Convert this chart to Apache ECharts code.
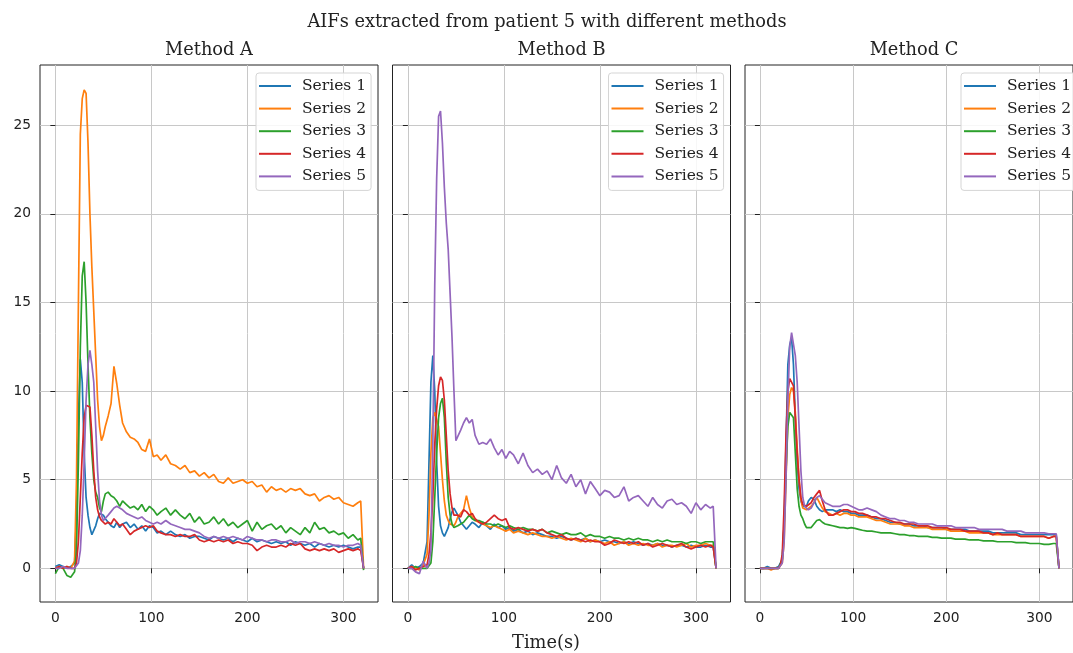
<!DOCTYPE html>
<html><head><meta charset="utf-8">
<script src="https://cdn.jsdelivr.net/npm/echarts@6/dist/echarts.min.js"></script>
<style>html,body{margin:0;padding:0;background:#fff}#c{width:1073px;height:653px}</style>
</head><body><div id="c"></div><script>
const times = [0,4,8,12,16,
  20,22,24,26,28,30,32,34,36,38,40,42,44,46,48,50,52,
  55,58,61,64,67,70,
  74,78,82,86,90,94,98,102,106,
  110,
  115,120,125,130,135,140,145,150,155,160,
  165,170,175,180,185,190,195,200,205,210,
  215,220,225,230,235,240,245,250,255,260,
  265,270,275,280,285,290,295,300,305,310,
  315,
  318,321];

const suptitle = 'AIFs extracted from patient 5 with different methods';
const methodNames = ['Method A', 'Method B', 'Method C'];
const seriesNames = ['Series 1', 'Series 2', 'Series 3', 'Series 4', 'Series 5'];
const xLabel = 'Time(s)';
const xTicks = [0, 100, 200, 300];
const yTicks = [0, 5, 10, 15, 20, 25];

// Method A
const a1 = [0.1,0.2,0.1,0.0,0.1,
  0.3,3.0,8.5,11.8,10.5,6.5,4.0,3.0,2.3,1.9,2.0,2.4,2.8,3.1,3.2,3.0,2.8,
  2.6,2.4,2.3,2.6,2.3,2.5,
  2.6,2.3,2.5,2.2,2.4,2.1,2.4,2.3,2.0,
  2.1,
  1.9,2.1,1.9,1.8,1.9,1.7,1.8,1.8,1.7,1.6,
  1.8,1.7,1.6,1.7,1.5,1.7,1.6,1.5,1.7,1.5,
  1.6,1.5,1.4,1.5,1.4,1.5,1.3,1.5,1.4,1.3,
  1.4,1.2,1.4,1.3,1.2,1.3,1.2,1.3,1.2,1.1,
  1.2,
  1.2,0.0];
const a2 = [0.0,0.1,0.0,0.1,0.0,
  0.4,5.0,15.0,24.5,26.5,27.0,26.8,24.0,20.0,17.0,14.5,12.0,9.5,8.0,7.2,7.5,8.0,
  8.6,9.3,11.4,10.4,9.2,8.2,
  7.7,7.4,7.3,7.1,6.7,6.6,7.3,6.3,6.4,
  6.1,
  6.4,5.9,5.8,5.6,5.8,5.4,5.5,5.2,5.4,5.1,
  5.3,4.9,4.8,5.1,4.8,4.9,5.0,4.8,4.9,4.6,
  4.7,4.3,4.6,4.4,4.5,4.3,4.5,4.4,4.5,4.2,
  4.1,4.2,3.8,4.0,4.1,3.9,4.0,3.7,3.6,3.5,
  3.7,
  3.8,0.0];
const a3 = [-0.3,0.1,0.0,-0.4,-0.5,
  -0.2,1.0,6.0,12.5,16.5,17.3,15.0,11.5,8.5,6.5,5.0,4.3,4.0,3.4,3.2,3.8,4.2,
  4.3,4.1,4.0,3.8,3.5,3.8,
  3.6,3.4,3.5,3.3,3.6,3.2,3.5,3.3,3.0,
  3.2,
  3.4,3.0,3.3,3.0,2.8,3.1,2.6,2.9,2.5,2.6,
  2.9,2.5,2.8,2.4,2.6,2.3,2.5,2.7,2.1,2.6,
  2.2,2.4,2.5,2.2,2.4,2.0,2.3,2.1,1.9,2.3,
  2.0,2.6,2.2,2.3,2.0,2.1,1.9,2.0,1.7,1.9,
  1.6,
  1.7,-0.1];
const a4 = [0.0,0.1,0.0,0.1,0.0,
  0.0,0.3,1.5,4.0,6.5,8.5,9.2,9.3,9.1,7.5,5.5,4.0,3.3,2.9,2.7,2.6,2.5,
  2.6,2.5,2.8,2.6,2.4,2.5,
  2.2,1.9,2.1,2.2,2.3,2.4,2.3,2.4,2.1,
  2.0,
  1.9,1.9,1.8,1.9,1.8,1.8,1.9,1.6,1.5,1.6,
  1.5,1.6,1.5,1.6,1.4,1.5,1.4,1.4,1.3,1.0,
  1.2,1.3,1.2,1.2,1.3,1.2,1.4,1.3,1.4,1.1,
  1.0,1.1,1.0,1.1,1.0,1.1,0.9,1.0,1.1,1.0,
  1.1,
  1.0,0.0];
const a5 = [0.0,0.0,0.1,0.0,0.0,
  0.0,0.1,0.3,1.0,3.0,6.0,9.5,11.5,12.3,11.5,10.5,8.0,5.5,3.8,3.0,2.7,2.8,
  3.0,3.2,3.4,3.5,3.4,3.3,
  3.1,3.0,2.9,2.8,2.9,2.7,2.6,2.5,2.6,
  2.5,
  2.7,2.5,2.4,2.3,2.2,2.2,2.1,2.0,1.8,1.7,
  1.8,1.7,1.8,1.7,1.8,1.7,1.6,1.8,1.7,1.6,
  1.6,1.5,1.6,1.6,1.5,1.5,1.6,1.4,1.5,1.5,
  1.4,1.5,1.4,1.3,1.4,1.3,1.3,1.2,1.3,1.3,
  1.4,
  1.3,0.0];

// Method B
const b1 = [0.0,0.2,0.0,0.1,0.3,
  1.5,6.0,10.5,12.0,10.0,6.0,3.5,2.4,2.0,1.8,1.9,2.3,2.8,3.2,3.4,3.3,3.0,
  2.6,2.4,2.2,2.4,2.6,2.5,
  2.3,2.6,2.4,2.2,2.5,2.3,2.4,2.2,2.3,
  2.1,
  2.2,2.0,2.1,1.9,2.0,1.9,1.8,1.8,1.7,1.8,
  1.7,1.6,1.7,1.6,1.7,1.5,1.6,1.5,1.6,1.5,
  1.5,1.4,1.5,1.4,1.5,1.4,1.3,1.4,1.3,1.4,
  1.3,1.3,1.2,1.3,1.3,1.2,1.3,1.2,1.2,1.3,
  1.2,
  1.2,0.0];
const b2 = [0.0,0.1,0.0,-0.1,0.2,
  0.8,3.0,6.5,8.5,8.8,8.9,8.0,6.5,5.0,3.8,3.0,2.7,2.5,2.4,2.4,2.6,2.9,
  3.1,3.3,4.1,3.4,2.9,2.7,
  2.6,2.5,2.4,2.3,2.4,2.3,2.2,2.1,2.2,
  2.0,
  2.1,2.0,1.9,2.0,1.9,1.8,1.8,1.7,1.8,1.7,
  1.6,1.7,1.6,1.5,1.7,1.5,1.6,1.5,1.4,1.5,
  1.3,1.4,1.5,1.3,1.4,1.3,1.4,1.3,1.3,1.4,
  1.2,1.3,1.3,1.2,1.3,1.4,1.2,1.3,1.3,1.4,
  1.3,
  1.3,0.0];
const b3 = [0.0,0.0,0.1,0.0,0.0,
  0.0,0.1,0.3,1.5,4.0,6.5,8.5,9.3,9.6,8.5,6.0,4.0,3.0,2.5,2.3,2.3,2.4,
  2.5,2.6,2.8,3.0,2.8,2.7,
  2.7,2.6,2.5,2.5,2.4,2.5,2.4,2.3,2.4,
  2.3,
  2.2,2.3,2.2,2.2,2.1,2.2,2.0,2.1,2.0,1.9,
  2.0,1.9,1.9,2.0,1.8,1.9,1.8,1.8,1.7,1.8,
  1.7,1.7,1.6,1.7,1.6,1.7,1.6,1.6,1.5,1.6,
  1.5,1.6,1.5,1.5,1.5,1.4,1.5,1.5,1.4,1.5,
  1.5,
  1.5,0.0];
const b4 = [0.0,0.1,-0.1,0.0,0.1,
  0.2,0.8,2.0,4.0,7.0,9.0,10.3,10.8,10.6,9.5,7.5,5.5,4.2,3.4,3.0,2.9,3.0,
  2.9,3.3,3.2,3.0,3.1,2.8,
  2.6,2.5,2.6,2.8,3.0,2.8,2.7,2.8,2.3,
  2.2,
  2.3,2.2,2.1,2.2,2.1,2.2,2.0,1.9,1.8,1.9,
  1.7,1.6,1.7,1.6,1.5,1.6,1.5,1.5,1.3,1.4,
  1.6,1.5,1.4,1.5,1.4,1.5,1.3,1.4,1.2,1.3,
  1.4,1.3,1.2,1.3,1.4,1.2,1.1,1.2,1.3,1.2,
  1.3,
  1.2,0.0];
const b5 = [0.0,0.0,-0.2,-0.3,0.4,
  0.0,0.3,1.0,7.0,16.0,22.0,25.5,25.8,24.0,21.5,19.5,18.0,15.5,13.0,10.0,7.2,7.2,
  7.8,8.2,8.5,8.2,8.4,7.5,
  7.0,7.1,7.0,7.3,6.8,6.4,6.7,6.2,6.6,
  6.4,
  5.9,6.5,5.8,5.4,5.6,5.3,5.5,5.0,5.8,5.1,
  4.8,5.3,4.6,5.0,4.2,4.9,4.5,4.1,4.4,4.3,
  4.0,4.1,4.6,3.8,4.0,4.1,3.8,3.5,4.0,3.6,
  3.4,3.8,3.9,3.6,3.7,3.5,3.1,3.7,3.3,3.6,
  3.4,
  3.5,0.0];

// Method C
const c1 = [0.0,0.0,0.1,0.0,0.0,
  0.1,0.2,0.5,2.5,7.0,11.5,12.6,13.0,11.5,8.5,6.0,4.5,3.8,3.5,3.4,3.5,3.8,
  4.0,3.9,3.5,3.3,3.2,3.3,
  3.3,3.3,3.2,3.3,3.2,3.2,3.1,3.1,3.0,
  3.0,
  3.0,2.9,2.8,2.8,2.7,2.6,2.6,2.5,2.5,2.5,
  2.4,2.4,2.4,2.3,2.3,2.3,2.3,2.2,2.2,2.2,
  2.2,2.2,2.1,2.1,2.1,2.1,2.1,2.0,2.0,2.0,
  2.0,2.0,2.0,1.9,1.9,1.9,1.9,1.9,1.9,1.9,
  1.9,
  1.9,0.0];
const c2 = [0.0,0.0,0.0,-0.1,0.0,
  0.0,0.1,0.3,1.5,5.0,8.5,9.8,10.2,10.0,8.8,6.8,5.0,3.9,3.4,3.3,3.3,3.4,
  3.5,3.7,4.0,3.7,3.4,3.2,
  3.1,3.0,3.1,3.0,3.1,3.1,3.0,3.0,2.9,
  2.9,
  2.9,2.8,2.7,2.7,2.6,2.5,2.5,2.5,2.4,2.4,
  2.3,2.3,2.3,2.3,2.2,2.2,2.2,2.2,2.1,2.1,
  2.1,2.1,2.0,2.0,2.0,2.0,2.0,1.9,1.9,1.9,
  1.9,1.9,1.9,1.8,1.8,1.8,1.8,1.8,1.8,1.7,
  1.8,
  1.8,0.0];
const c3 = [0.0,0.0,0.0,0.0,0.0,
  0.0,0.1,0.5,2.5,5.5,8.0,8.8,8.9,8.5,6.5,4.5,3.5,3.0,2.8,2.5,2.3,2.2,
  2.3,2.5,2.7,2.75,2.6,2.5,
  2.45,2.4,2.35,2.3,2.3,2.25,2.3,2.25,2.2,
  2.15,
  2.1,2.1,2.05,2.0,2.0,2.0,1.95,1.9,1.9,1.85,
  1.85,1.8,1.8,1.8,1.75,1.75,1.7,1.7,1.7,1.65,
  1.65,1.65,1.6,1.6,1.6,1.55,1.55,1.55,1.5,1.5,
  1.5,1.5,1.45,1.45,1.45,1.4,1.4,1.4,1.35,1.35,
  1.4,
  1.4,0.0];
const c4 = [0.0,0.0,0.0,0.0,0.0,
  0.0,0.2,0.8,3.5,7.5,10.0,10.7,10.8,10.3,8.5,6.5,5.0,4.0,3.6,3.5,3.5,3.5,
  3.7,4.0,4.2,4.4,3.8,3.3,
  3.0,3.0,3.1,3.2,3.3,3.3,3.2,3.2,3.1,
  3.1,
  3.0,2.9,2.9,2.8,2.8,2.7,2.6,2.6,2.5,2.5,
  2.5,2.4,2.4,2.4,2.3,2.3,2.3,2.3,2.2,2.2,
  2.2,2.1,2.1,2.1,2.1,2.0,2.0,1.9,2.0,1.9,
  1.9,1.9,1.9,1.8,1.8,1.8,1.8,1.8,1.8,1.7,
  1.8,
  1.8,0.0];
const c5 = [0.0,0.0,0.0,0.0,0.0,
  0.0,0.1,0.3,1.5,5.0,9.5,12.5,13.3,13.2,12.0,10.5,8.0,5.5,4.0,3.5,3.4,3.3,
  3.4,3.7,4.0,4.1,3.9,3.7,
  3.6,3.5,3.5,3.5,3.6,3.6,3.5,3.4,3.3,
  3.3,
  3.4,3.3,3.2,3.0,2.9,2.8,2.8,2.7,2.7,2.6,
  2.6,2.5,2.5,2.5,2.5,2.4,2.4,2.4,2.4,2.3,
  2.3,2.3,2.3,2.3,2.2,2.2,2.2,2.2,2.2,2.2,
  2.1,2.1,2.1,2.1,2.0,2.0,2.0,2.0,2.0,1.95,
  1.95,
  1.95,0.0];

const panels = [[a1,a2,a3,a4,a5],[b1,b2,b3,b4,b5],[c1,c2,c3,c4,c5]];
const colors = ['#1f77b4','#ff7f0e','#2ca02c','#d62728','#9467bd'];
const gridLefts = [40, 392.5, 745];
const gridW = 338, gridTop = 65, gridH = 537;
const SERIF = 'DejaVu Serif', SANS = 'DejaVu Sans';
const textColor = '#222';

const grids = [], xAxes = [], yAxes = [], series = [], legends = [], graphics = [];
gridLefts.forEach((gl, i) => {
  grids.push({left: gl, top: gridTop, width: gridW, height: gridH, show: true,
    borderColor: '#222', borderWidth: 1, backgroundColor: 'transparent', containLabel: false});
  xAxes.push({type: 'value', gridIndex: i, min: -16, max: 336,
    axisLine: {show: false},
    axisTick: {show: true, length: 5, customValues: xTicks, lineStyle: {color: '#222', width: 1}},
    axisLabel: {customValues: xTicks, margin: 9, fontFamily: SANS, fontSize: 13.8, color: textColor},
    splitLine: {show: true, customValues: xTicks, lineStyle: {color: '#c8c8c8', width: 1}}});
  yAxes.push({type: 'value', gridIndex: i, min: -1.9, max: 28.4,
    axisLine: {show: false},
    axisTick: {show: true, length: 5, customValues: yTicks, lineStyle: {color: '#222', width: 1}},
    axisLabel: {show: i === 0, customValues: yTicks, margin: 9, fontFamily: SANS, fontSize: 13.8, color: textColor},
    splitLine: {show: true, customValues: yTicks, lineStyle: {color: '#c8c8c8', width: 1}}});
  panels[i].forEach((vals, s) => {
    series.push({type: 'line', name: seriesNames[s], xAxisIndex: i, yAxisIndex: i,
      data: times.map((t, k) => [t, vals[k]]),
      showSymbol: false, symbol: 'none', smooth: false,
      lineStyle: {width: 1.7, color: colors[s]}, itemStyle: {color: colors[s]},
      emphasis: {disabled: true}, z: 3});
  });
  legends.push({orient: 'vertical', left: gl + 216, top: 73, data: seriesNames,
    icon: 'rect', itemWidth: 32, itemHeight: 2, itemGap: 4.6,
    padding: [4, 5, 5, 3], borderColor: '#d5d5d5', borderWidth: 1, borderRadius: 3,
    backgroundColor: 'rgba(255,255,255,0.85)', z: 10,
    textStyle: {fontFamily: SERIF, fontSize: 15.5, color: textColor, lineHeight: 18, padding: [0, 0, 0, 6]}});
  graphics.push({type: 'text', x: gl + gridW / 2, y: 50,
    style: {text: methodNames[i], fontFamily: SERIF, fontSize: 17.8, fill: textColor,
      textAlign: 'center', textVerticalAlign: 'middle'}});
});
graphics.push({type: 'text', x: 547, y: 22,
  style: {text: suptitle, fontFamily: SERIF, fontSize: 17.8, fill: textColor, textAlign: 'center', textVerticalAlign: 'middle'}});
graphics.push({type: 'text', x: 546, y: 643,
  style: {text: xLabel, fontFamily: SERIF, fontSize: 17.8, fill: textColor, textAlign: 'center', textVerticalAlign: 'middle'}});

const chart = echarts.init(document.getElementById('c'), null, {renderer: 'canvas'});
chart.setOption({
  animation: false,
  backgroundColor: '#fff',
  color: colors,
  grid: grids, xAxis: xAxes, yAxis: yAxes,
  legend: legends, series: series, graphic: graphics
});
</script></body></html>
